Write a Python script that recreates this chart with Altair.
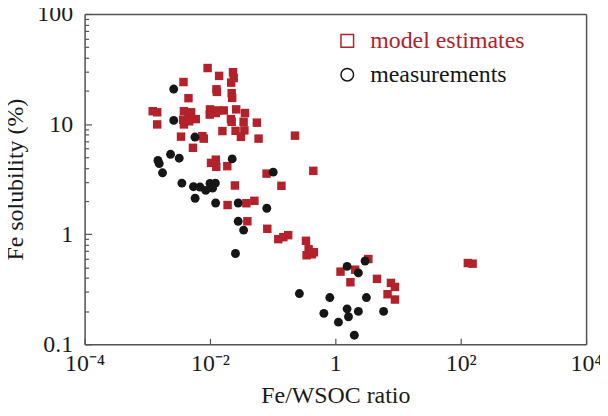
import altair as alt
import pandas as pd

# ---- data ----
model_x = [0.00917, 0.0140, 0.0233, 0.0239, 0.0218, 0.00378, 0.0127, 0.0129, 0.0222, 0.0226,
           0.00454, 0.00122, 0.00144, 0.00144, 0.00384, 0.00500, 0.00454, 0.00594, 0.00373, 0.00384,
           0.00466, 0.0100, 0.00992, 0.0124, 0.0133, 0.0166, 0.0262, 0.0361, 0.0216, 0.0222,
           0.0344, 0.0560, 0.0256, 0.0354, 0.0312, 0.0158, 0.0596, 0.227, 0.00345, 0.00757,
           0.00796, 0.00535, 0.0104, 0.0124, 0.0126, 0.0189, 0.080, 0.0250, 0.138, 0.0191,
           0.0381, 0.0511, 0.0395, 0.0821, 0.123, 0.148, 0.177, 0.340, 0.375, 0.455,
           0.348, 0.423, 0.445, 3.36, 1.21, 2.07, 4.62, 1.74, 7.71, 8.93,
           6.81, 8.93, 130, 155]
model_y = [32.3, 27.4, 29.6, 26.2, 23.8, 24.1, 20.7, 19.6, 19.1, 17.3,
           17.2, 13.1, 12.8, 9.93, 13.1, 12.8, 11.9, 11.1, 10.95, 9.93,
           10.6, 13.6, 12.2, 12.6, 13.3, 13.3, 13.6, 12.6, 11.1, 10.5,
           10.5, 10.3, 8.68, 8.77, 7.66, 8.64, 7.38, 7.85, 7.69, 7.77,
           7.38, 6.09, 4.44, 4.75, 4.09, 4.15, 3.55, 2.77, 2.75, 1.84,
           1.91, 2.01, 1.31, 1.12, 0.902, 0.940, 0.980, 0.871, 0.730, 0.686,
           0.644, 0.657, 3.76, 0.595, 0.457, 0.476, 0.393, 0.366, 0.361, 0.332,
           0.285, 0.255, 0.547, 0.540]
meas_x = [0.00264, 0.00264, 0.00575, 0.00148, 0.00155, 0.00175, 0.00235, 0.00323, 0.0226, 0.102,
          0.00356, 0.00545, 0.00695, 0.00857, 0.0100, 0.0122, 0.0110, 0.00579, 0.0123, 0.0282,
          0.0806, 0.0282, 0.0344, 0.0255, 0.267, 2.98, 1.54, 2.33, 0.817, 3.13,
          1.54, 0.656, 1.62, 2.33, 1.12, 5.89, 2.01]
meas_y = [20.8, 10.8, 7.63, 4.67, 4.38, 3.61, 5.32, 4.90, 4.83, 3.66,
          2.91, 2.70, 2.68, 2.50, 2.89, 2.91, 2.62, 2.12, 1.92, 1.92,
          1.72, 1.31, 1.09, 0.668, 0.289, 0.571, 0.510, 0.445, 0.266, 0.266,
          0.210, 0.191, 0.178, 0.199, 0.159, 0.199, 0.121]

series_names = ["model estimates", "measurements"]
series_colors = ["#b3212a", "#161616"]
series_shapes = ["square", "circle"]

x_ticks = [1e-4, 1e-2, 1, 1e2, 1e4]
x_tick_labels = ["10⁻⁴", "10⁻²", "1", "10²", "10⁴"]
y_major = [0.1, 1, 10, 100]
y_major_labels = ["0.1", "1", "10", "100"]
y_minor = [0.2, 0.3, 0.4, 0.5, 0.6, 0.7, 0.8, 0.9,
           2, 3, 4, 5, 6, 7, 8, 9,
           20, 30, 40, 50, 60, 70, 80, 90]

x_title = "Fe/WSOC ratio"
y_title = "Fe solubility (%)"

# ---- build tables ----
df_model = pd.DataFrame({"x": model_x, "y": model_y, "series": series_names[0]})
df_meas = pd.DataFrame({"x": meas_x, "y": meas_y, "series": series_names[1]})
df = pd.concat([df_model, df_meas], ignore_index=True)

W, H = 504, 332
FONT = "Liberation Serif"
FS = 24
AXIS_GRAY = "#555555"
TEXT = "#1a1a1a"


def label_expr(values, labels):
    parts = [f"abs(datum.value - {v}) < {v * 0.001} ? '{lab}'" for v, lab in zip(values, labels)]
    return " : ".join(parts) + " : ''"


xscale = alt.Scale(type="log", domain=[x_ticks[0], x_ticks[-1]], nice=False)
yscale = alt.Scale(type="log", domain=[y_major[0], y_major[-1]], nice=False)
cscale = alt.Scale(domain=series_names, range=series_colors)
sscale = alt.Scale(domain=series_names, range=series_shapes)

main_x_axis = alt.Axis(values=x_ticks, labelExpr=label_expr(x_ticks, x_tick_labels),
                       ticks=False, domain=True, domainColor=AXIS_GRAY, domainWidth=1.5,
                       grid=False, labelFont=FONT, labelFontSize=FS,
                       labelColor=TEXT, labelPadding=7, title=x_title, titleFont=FONT,
                       titleFontSize=FS, titleFontWeight="normal", titleColor=TEXT,
                       titlePadding=8, labelFlush=False)
main_y_axis = alt.Axis(values=y_major, labelExpr=label_expr(y_major, y_major_labels),
                       ticks=False, domain=True, domainColor=AXIS_GRAY, domainWidth=1.5,
                       grid=False, labelFont=FONT, labelFontSize=FS,
                       labelColor=TEXT, labelPadding=12, title=y_title, titleFont=FONT,
                       titleFontSize=FS, titleFontWeight="normal", titleColor=TEXT,
                       titlePadding=9, labelFlush=False)

legend = alt.Legend(orient="none", legendX=252, legendY=15, title=None,
                    labelFont=FONT, labelFontSize=FS, symbolSize=160, symbolStrokeWidth=1.5,
                    rowPadding=10, labelOffset=11, symbolFillColor="transparent",
                    labelColor=alt.ExprRef(expr=f"datum.label == '{series_names[0]}' ? '{series_colors[0]}' : '{series_colors[1]}'"))

# filled data markers, one layer per series (measurements drawn on top)
model_pts = alt.Chart(df_model).mark_point(filled=True, opacity=1, size=72, strokeWidth=0,
                                           shape=series_shapes[0], color=series_colors[0]).encode(
    x=alt.X("x:Q", scale=xscale, axis=main_x_axis),
    y=alt.Y("y:Q", scale=yscale, axis=main_y_axis),
)
meas_pts = alt.Chart(df_meas).mark_point(filled=True, opacity=1, size=80, strokeWidth=0,
                                         shape=series_shapes[1], color=series_colors[1]).encode(
    x=alt.X("x:Q", scale=xscale, axis=main_x_axis),
    y=alt.Y("y:Q", scale=yscale, axis=main_y_axis),
)

# open-symbol legend (layer without visible marks)
legend_layer = alt.Chart(df).transform_filter("false").mark_point(filled=False, opacity=1, strokeWidth=1.5).encode(
    x=alt.X("x:Q", scale=xscale, axis=main_x_axis),
    y=alt.Y("y:Q", scale=yscale, axis=main_y_axis),
    color=alt.Color("series:N", scale=cscale, legend=legend),
    shape=alt.Shape("series:N", scale=sscale, legend=legend),
)

major_test = " || ".join([f"abs(datum.value - {v}) < {v * 0.001}" for v in y_major])

# inward ticks: axes placed on the opposite side and offset back onto the frame
tick_x_axis = alt.Axis(orient="top", offset=-H, values=x_ticks, labels=False, domain=False, grid=False,
                       ticks=True, tickSize=6, tickColor=AXIS_GRAY, tickWidth=1.2, title=None)
tick_y_axis = alt.Axis(orient="right", offset=-W, values=sorted(y_major + y_minor), labels=False,
                       domain=False, grid=False, ticks=True,
                       tickSize={"condition": {"test": major_test, "value": 7}, "value": 4},
                       tickColor=AXIS_GRAY, tickWidth=1.2, title=None)
ticks_layer = alt.Chart(df).mark_point(opacity=0).encode(
    x=alt.X("x:Q", scale=xscale, axis=tick_x_axis),
    y=alt.Y("y:Q", scale=yscale, axis=tick_y_axis),
)

# top and right frame lines
frame_x_axis = alt.Axis(orient="top", values=x_ticks, labels=False, ticks=False, grid=False,
                        domain=True, domainColor=AXIS_GRAY, domainWidth=1.5, title=None)
frame_y_axis = alt.Axis(orient="right", values=y_major, labels=False, ticks=False, grid=False,
                        domain=True, domainColor=AXIS_GRAY, domainWidth=1.5, title=None)
frame_layer = alt.Chart(df).mark_point(opacity=0).encode(
    x=alt.X("x:Q", scale=xscale, axis=frame_x_axis),
    y=alt.Y("y:Q", scale=yscale, axis=frame_y_axis),
)

main = alt.layer(model_pts, meas_pts, legend_layer)

chart = alt.layer(main, ticks_layer, frame_layer).resolve_axis(x="independent", y="independent").properties(
    width=W, height=H,
    autosize=alt.AutoSizeParams(type="none"),
    padding={"left": 77, "top": 5, "right": 14, "bottom": 63},
).configure_view(strokeWidth=0).configure(background="white")

chart.save("out.html", embed_options={"renderer": "svg", "actions": False})
